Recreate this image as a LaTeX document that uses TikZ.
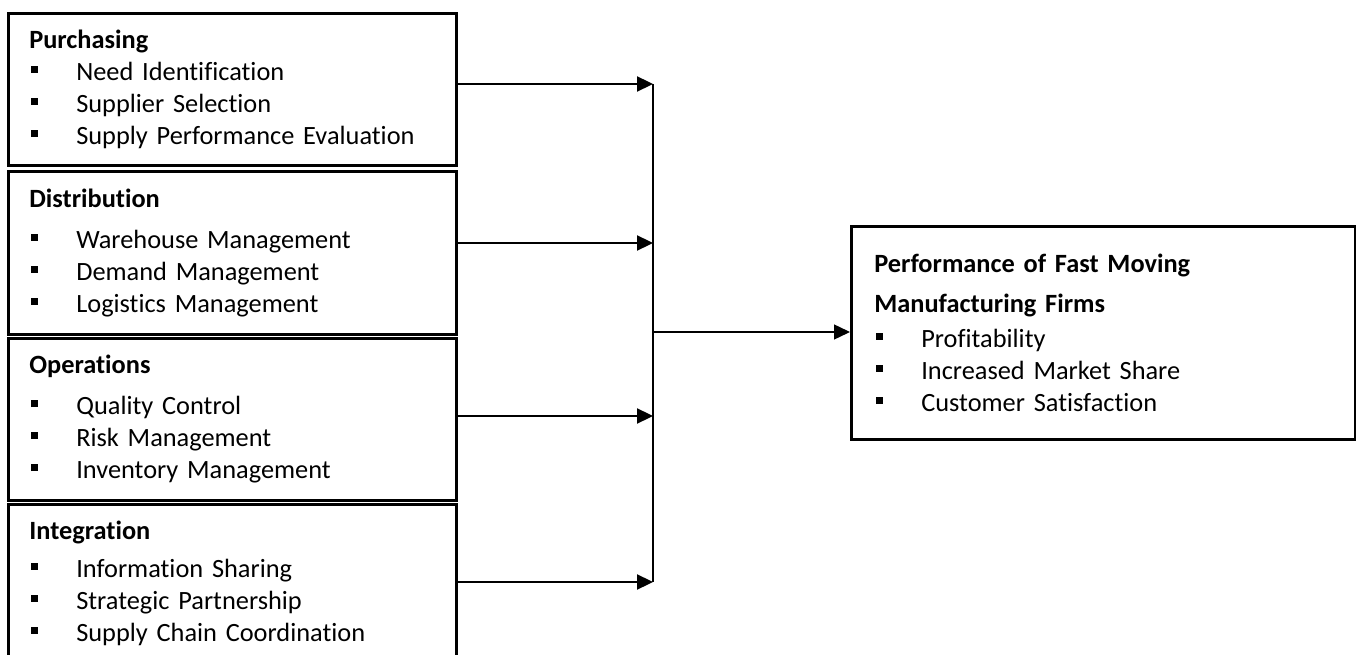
\documentclass[tikz,border=0pt]{standalone}
\usepackage{fontspec}
\setmainfont{Carlito}[Ligatures=NoCommon]
\usetikzlibrary{arrows.meta}
\newcommand{\bul}{\makebox[0.94cm][l]{\hspace{0.04cm}\raisebox{0.15cm}{\rule{0.14cm}{0.14cm}}}}

\begin{document}
\begin{tikzpicture}[x=0.02cm, y=-0.02cm, -{Triangle[length=0.32cm,width=0.3cm]},
        every node/.append style={font=\fontsize{15}{18.2}\selectfont}]
      \tikzstyle{factor} = [draw, line width=1.5pt, anchor=north west, align=left,
        inner xsep=0.42cm, inner ysep=0pt, text width=8.12cm]
      \tikzstyle{link} = [line width=1.3pt]
      \useasboundingbox (0,0) rectangle (1356,655);
      \node (purch) [factor, minimum height=3.04cm] at (7,12)
        {\textbf{Purchasing}\\ \bul Need Identification\\ \bul Supplier Selection\\ \bul Supply Performance Evaluation};
      \node (distr) [factor, minimum height=3.26cm] at (7,170)
        {\textbf{Distribution}\\[5pt] \bul Warehouse Management\\ \bul Demand Management\\ \bul Logistics Management};
      \node (oper) [factor, minimum height=3.24cm] at (7,337)
        {\textbf{Operations}\\[5pt] \bul Quality Control\\ \bul Risk Management\\ \bul Inventory Management};
      \node (integ) [factor, minimum height=3.16cm] at (7,503)
        {\textbf{Integration}\\[3pt] \bul Information Sharing\\ \bul Strategic Partnership\\ \bul Supply Chain Coordination};
      \node (perf) [factor, minimum height=4.26cm, inner xsep=0.46cm, text width=9.16cm] at (850,225)
        {\textbf{Performance of Fast Moving}\\[4.5pt] \textbf{Manufacturing Firms}\\[1.5pt] \bul Profitability\\ \bul Increased Market Share\\ \bul Customer Satisfaction\\[11.5pt]};
      \coordinate (j1) at (653,84);
      \coordinate (j2) at (653,243);
      \coordinate (j3) at (653,416);
      \coordinate (j4) at (653,582);
      \coordinate (jout) at (653,332);
      \draw[link] (purch.east |- j1) -- (j1);
      \draw[link] (distr.east |- j2) -- (j2);
      \draw[link] (oper.east |- j3) -- (j3);
      \draw[link] (integ.east |- j4) -- (j4);
      \draw[link,-] (j1) -- (j4);
      \draw[line width=0.8pt] (jout) -- (perf.west |- jout);
    \end{tikzpicture}
\end{document}
